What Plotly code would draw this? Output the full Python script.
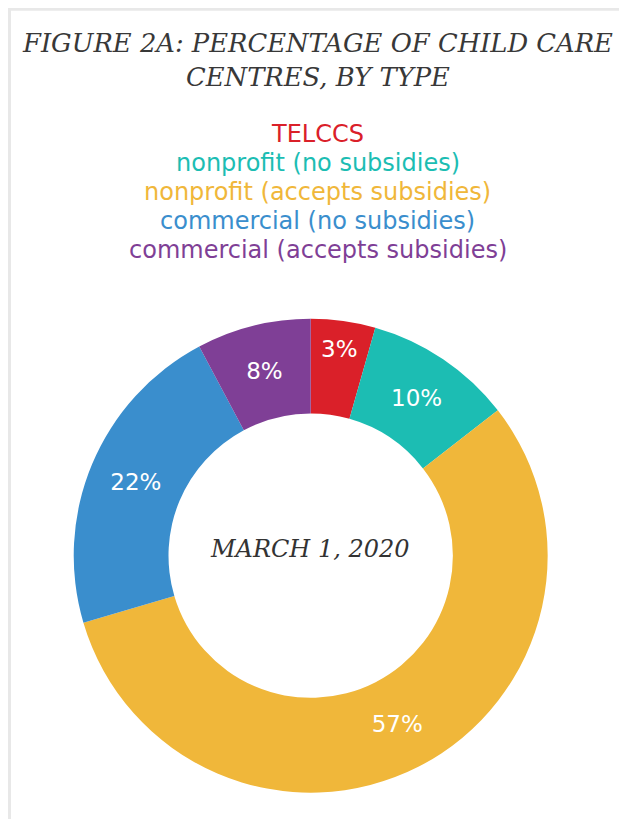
import plotly.graph_objects as go

# ---- data ----
categories = ["TELCCS", "nonprofit (no subsidies)", "nonprofit (accepts subsidies)",
              "commercial (no subsidies)", "commercial (accepts subsidies)"]
shares = [4.4, 10.1, 56.0, 21.8, 7.8]
slice_labels = ["3%", "10%", "57%", "22%", "8%"]
colors = ["#DA2029", "#1CBDB3", "#F0B73A", "#3A8ECD", "#7F3F96"]
title_text = "FIGURE 2A: PERCENTAGE OF CHILD CARE<br>CENTRES, BY TYPE"
center_text = "MARCH 1, 2020"

# page has an 8px body margin, so the figure is sized to fit inside it
W, H = 619, 811


def py(y):  # figure-pixel y (from top) -> paper
    return 1 - y / H


fig = go.Figure()
fig.add_trace(go.Pie(
    labels=categories,
    values=shares,
    text=slice_labels,
    textinfo="text",
    textposition="inside",
    insidetextorientation="horizontal",
    textfont=dict(family="DejaVu Sans", size=23, color="white"),
    marker=dict(colors=colors, line=dict(width=0)),
    hole=0.6,
    sort=False,
    direction="clockwise",
    rotation=0,
    showlegend=False,
    hoverinfo="label+text",
    domain=dict(x=[0.1061, 0.8719], y=[0.0325, 0.6169]),
))

annotations = []
# title
annotations.append(dict(
    text="<i>" + title_text + "</i>", x=0.5, y=py(51.5), xref="paper", yref="paper",
    xanchor="center", yanchor="middle", showarrow=False, align="center",
    font=dict(family="DejaVu Serif", size=25.8, color="#383838"),
))
# colored legend lines
legend_y0 = 126
legend_step = 29
for i, (cat, col) in enumerate(zip(categories, colors)):
    annotations.append(dict(
        text=cat, x=0.5, y=py(legend_y0 + i * legend_step),
        xref="paper", yref="paper", xanchor="center", yanchor="middle",
        showarrow=False, font=dict(family="DejaVu Sans", size=24, color=col),
    ))
# center text
annotations.append(dict(
    text="<i>" + center_text + "</i>", x=302 / W, y=py(541), xref="paper", yref="paper",
    xanchor="center", yanchor="middle", showarrow=False,
    font=dict(family="DejaVu Serif", size=24, color="#333333"),
))

shapes = [
    dict(type="line", xref="paper", yref="paper", x0=1.5 / W, x1=1.5 / W, y0=0, y1=py(0),
         line=dict(color="#E8E8E8", width=3)),
    dict(type="line", xref="paper", yref="paper", x0=0, x1=1, y0=py(1.2), y1=py(1.2),
         line=dict(color="#E8E8E8", width=3)),
]

fig.update_layout(
    width=W, height=H,
    margin=dict(l=0, r=0, t=0, b=0),
    paper_bgcolor="white", plot_bgcolor="white",
    annotations=annotations, shapes=shapes,
)

fig.write_html("out.html")
